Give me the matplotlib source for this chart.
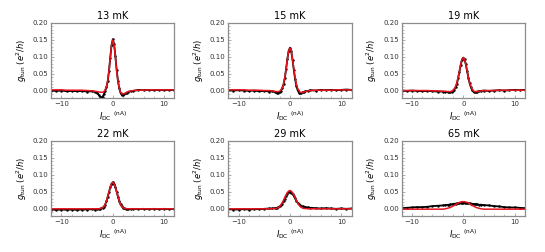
import matplotlib
matplotlib.use("Agg")
import matplotlib.pyplot as plt
from matplotlib.ticker import MultipleLocator

# bias current grid (nA)
x = [-12, -11, -10, -9, -8, -7, -6, -5, -4, -3.5,
     -3, -2.75, -2.5, -2.25, -2, -1.75, -1.5, -1.25, -1, -0.75, -0.5, -0.25,
     0, 0.25, 0.5, 0.75, 1, 1.25, 1.5, 1.75, 2, 2.25, 2.5, 2.75, 3,
     3.5, 4, 5, 6, 7, 8, 9, 10, 11, 12]

temps = ["13 mK", "15 mK", "19 mK", "22 mK", "29 mK", "65 mK"]

# measured g_tun (e^2/h)
data_13 = [0.001, 0.000, 0.001, -0.001, 0.000, -0.001, 0.000, -0.002, -0.001, -0.003,
           -0.006, -0.012, -0.017, -0.019, -0.018, -0.010, 0.000, 0.010, 0.028, 0.058, 0.098, 0.135,
           0.152, 0.138, 0.102, 0.062, 0.030, 0.008, -0.006, -0.012, -0.012, -0.010, -0.007, -0.005, -0.003,
           -0.001, 0.000, 0.003, 0.002, 0.003, 0.002, 0.003, 0.002, 0.003, 0.002]
data_15 = [0.002, 0.001, 0.002, 0.001, 0.000, 0.001, -0.001, 0.000, -0.002, -0.001,
           -0.003, -0.004, -0.006, -0.007, -0.004, 0.001, 0.008, 0.019, 0.038, 0.064, 0.094, 0.118,
           0.127, 0.117, 0.092, 0.062, 0.035, 0.015, 0.002, -0.005, -0.007, -0.006, -0.004, -0.003, -0.001,
           0.000, 0.002, 0.001, 0.003, 0.002, 0.003, 0.002, 0.003, 0.004, 0.003]
data_19 = [0.001, 0.000, 0.001, 0.000, -0.001, 0.000, -0.001, -0.002, -0.002, -0.003,
           -0.003, -0.004, -0.004, -0.003, 0.000, 0.004, 0.010, 0.020, 0.037, 0.056, 0.076, 0.092,
           0.098, 0.093, 0.078, 0.058, 0.039, 0.022, 0.010, 0.002, -0.003, -0.004, -0.003, -0.002, -0.001,
           0.000, 0.001, 0.000, 0.001, 0.002, 0.001, 0.002, 0.003, 0.002, 0.003]
data_22 = [-0.002, -0.003, -0.002, -0.003, -0.002, -0.003, -0.002, -0.002, -0.001, -0.002,
           -0.001, -0.001, 0.000, 0.001, 0.003, 0.006, 0.012, 0.022, 0.035, 0.049, 0.063, 0.074,
           0.078, 0.074, 0.064, 0.050, 0.036, 0.023, 0.013, 0.007, 0.003, 0.001, 0.000, -0.001, -0.001,
           -0.001, 0.000, -0.001, 0.000, -0.001, 0.000, -0.001, 0.000, -0.001, 0.000]
data_29 = [-0.001, -0.002, -0.002, -0.001, -0.002, -0.001, -0.001, 0.000, 0.001, 0.001,
           0.002, 0.002, 0.003, 0.005, 0.007, 0.010, 0.015, 0.022, 0.030, 0.038, 0.045, 0.049,
           0.050, 0.048, 0.044, 0.038, 0.031, 0.024, 0.018, 0.014, 0.010, 0.008, 0.007, 0.006, 0.005,
           0.004, 0.003, 0.002, 0.001, 0.002, 0.001, 0.000, 0.001, 0.000, 0.001]
data_65 = [0.002, 0.003, 0.004, 0.005, 0.005, 0.006, 0.008, 0.009, 0.010, 0.011,
           0.012, 0.012, 0.013, 0.013, 0.014, 0.015, 0.015, 0.016, 0.016, 0.017, 0.017, 0.018,
           0.018, 0.018, 0.017, 0.017, 0.016, 0.016, 0.015, 0.015, 0.014, 0.014, 0.013, 0.013, 0.012,
           0.012, 0.011, 0.010, 0.008, 0.007, 0.005, 0.004, 0.004, 0.003, 0.002]

# fits
fit_13 = [0.003, 0.003, 0.003, 0.002, 0.002, 0.002, 0.002, 0.001, 0.000, -0.001,
          -0.002, -0.003, -0.004, -0.004, -0.004, -0.002, 0.003, 0.012, 0.029, 0.058, 0.097, 0.134,
          0.150, 0.135, 0.099, 0.059, 0.028, 0.008, -0.004, -0.008, -0.009, -0.008, -0.006, -0.004, -0.002,
          0.000, 0.001, 0.002, 0.002, 0.003, 0.003, 0.003, 0.003, 0.003, 0.003]
fit_15 = [0.003, 0.003, 0.003, 0.003, 0.002, 0.002, 0.002, 0.001, 0.001, 0.000,
          -0.001, -0.002, -0.002, -0.002, -0.001, 0.003, 0.009, 0.020, 0.039, 0.065, 0.094, 0.118,
          0.126, 0.118, 0.094, 0.065, 0.039, 0.020, 0.008, 0.000, -0.004, -0.005, -0.004, -0.003, -0.002,
          0.000, 0.001, 0.002, 0.002, 0.002, 0.002, 0.003, 0.003, 0.003, 0.003]
fit_19 = [0.001, 0.001, 0.001, 0.001, 0.001, 0.001, 0.000, 0.000, -0.001, -0.001,
          -0.002, -0.002, -0.002, -0.001, 0.002, 0.006, 0.013, 0.024, 0.040, 0.059, 0.078, 0.093,
          0.098, 0.093, 0.078, 0.059, 0.040, 0.024, 0.013, 0.005, 0.000, -0.002, -0.002, -0.002, -0.001,
          0.000, 0.001, 0.001, 0.001, 0.002, 0.002, 0.002, 0.002, 0.002, 0.002]
fit_22 = [0.000, 0.000, 0.000, 0.000, 0.000, 0.000, 0.000, 0.000, 0.000, 0.000,
          0.000, 0.000, 0.001, 0.002, 0.003, 0.007, 0.013, 0.023, 0.036, 0.050, 0.064, 0.074,
          0.078, 0.074, 0.064, 0.050, 0.036, 0.023, 0.013, 0.007, 0.003, 0.002, 0.001, 0.000, 0.000,
          0.000, 0.000, 0.000, 0.000, 0.000, 0.000, 0.000, 0.000, 0.000, 0.000]
fit_29 = [0.000, 0.000, 0.000, 0.000, 0.000, 0.000, 0.000, 0.000, 0.000, 0.000,
          0.001, 0.001, 0.002, 0.004, 0.007, 0.012, 0.018, 0.025, 0.033, 0.041, 0.048, 0.052,
          0.054, 0.052, 0.048, 0.041, 0.033, 0.025, 0.018, 0.012, 0.007, 0.004, 0.002, 0.001, 0.001,
          0.000, 0.000, 0.000, 0.000, 0.000, 0.000, 0.000, 0.000, 0.000, 0.000]
fit_65 = [-0.001, -0.001, -0.001, -0.001, -0.001, -0.001, -0.001, -0.001, -0.001, 0.000,
          0.002, 0.003, 0.004, 0.006, 0.008, 0.010, 0.012, 0.015, 0.017, 0.019, 0.020, 0.021,
          0.021, 0.021, 0.020, 0.019, 0.017, 0.015, 0.012, 0.010, 0.008, 0.006, 0.004, 0.003, 0.002,
          0.000, -0.001, -0.001, -0.001, -0.001, -0.001, -0.001, -0.001, -0.001, -0.001]

data = [data_13, data_15, data_19, data_22, data_29, data_65]
fits = [fit_13, fit_15, fit_19, fit_22, fit_29, fit_65]

lefts = [0.094, 0.419, 0.737]
bottoms = [0.611, 0.143]
w, h = 0.226, 0.298
frame = "#8c8c8c"

fig = plt.figure(figsize=(5.45, 2.52), dpi=100)

for i in range(6):
    ax = fig.add_axes([lefts[i % 3], bottoms[i // 3], w, h])
    ax.plot(x, data[i], color="k", lw=1.3, marker=".", ms=1.5)
    ax.plot(x, fits[i], color="#e8141e", lw=1.1)
    ax.set_xlim(-12, 12)
    ax.set_ylim(-0.021, 0.2)
    ax.set_xticks([-10, 0, 10])
    ax.set_yticks([0.0, 0.05, 0.10, 0.15, 0.20])
    ax.set_yticklabels(["0.00", "0.05", "0.10", "0.15", "0.20"])
    ax.xaxis.set_minor_locator(MultipleLocator(2))
    ax.yaxis.set_minor_locator(MultipleLocator(0.01))
    ax.tick_params(direction="in", labelsize=5, length=2.5, width=0.5,
                   color=frame, labelcolor="#333333", pad=2)
    ax.tick_params(which="minor", direction="in", length=1.2, width=0.4, color=frame)
    for s in ax.spines.values():
        s.set_color(frame)
        s.set_linewidth(0.9)
    ax.set_title(temps[i], fontsize=7, pad=3)
    ax.set_xlabel(r"$I_{\rm DC}$ $^{\rm (nA)}$", fontsize=6, labelpad=2)
    ax.set_ylabel(r"$g_{\rm tun}$ $(e^2/h)$", fontsize=6, labelpad=3)

fig.savefig("out.png", dpi=100)
